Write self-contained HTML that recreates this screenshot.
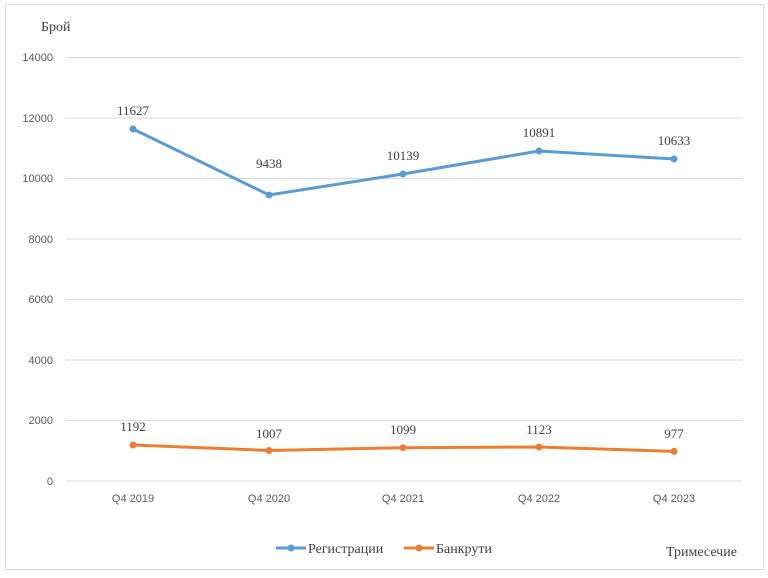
<html><body style="margin:0;background:#fff">
<svg width="768" height="578" xmlns="http://www.w3.org/2000/svg" style="display:block">
<rect x="5.5" y="4.5" width="758" height="565" fill="#fff" stroke="#d9d9d9"/>
<g stroke="#d9d9d9" stroke-width="1">
<line x1="66" x2="742" y1="57.5" y2="57.5"/><line x1="66" x2="742" y1="118" y2="118"/>
<line x1="66" x2="742" y1="178.5" y2="178.5"/><line x1="66" x2="742" y1="239" y2="239"/>
<line x1="66" x2="742" y1="299.5" y2="299.5"/><line x1="66" x2="742" y1="360" y2="360"/>
<line x1="66" x2="742" y1="420.5" y2="420.5"/><line x1="66" x2="742" y1="481" y2="481"/>
</g>
<g font-family="Liberation Sans, sans-serif" font-size="11" fill="#595959" text-anchor="end">
<text x="53" y="61">14000</text><text x="53" y="122">12000</text><text x="53" y="182">10000</text>
<text x="53" y="243">8000</text><text x="53" y="303">6000</text><text x="53" y="364">4000</text>
<text x="53" y="424">2000</text><text x="53" y="485">0</text>
</g>
<g font-family="Liberation Sans, sans-serif" font-size="11" fill="#595959" text-anchor="middle">
<text x="133" y="502">Q4 2019</text><text x="269" y="502">Q4 2020</text><text x="403" y="502">Q4 2021</text>
<text x="539" y="502">Q4 2022</text><text x="674" y="502">Q4 2023</text>
</g>
<text x="41" y="31" font-family="Liberation Serif, serif" font-size="14" fill="#404040">Брой</text>
<text x="666" y="556" font-family="Liberation Serif, serif" font-size="14" fill="#404040">Тримесечие</text>
<polyline points="133,129 269,195 403,174 539,151 674,159" fill="none" stroke="#5b9bd5" stroke-width="3" stroke-linejoin="round"/>
<polyline points="133,445 269,450.5 403,447.7 539,447 674,451.4" fill="none" stroke="#ed7d31" stroke-width="3" stroke-linejoin="round"/>
<g fill="#5b9bd5"><circle cx="133" cy="129" r="3.5"/><circle cx="269" cy="195" r="3.5"/><circle cx="403" cy="174" r="3.5"/><circle cx="539" cy="151" r="3.5"/><circle cx="674" cy="159" r="3.5"/></g>
<g fill="#ed7d31"><circle cx="133" cy="445" r="3.5"/><circle cx="269" cy="450.5" r="3.5"/><circle cx="403" cy="447.7" r="3.5"/><circle cx="539" cy="447" r="3.5"/><circle cx="674" cy="451.4" r="3.5"/></g>
<g font-family="Liberation Serif, serif" font-size="13" fill="#404040" text-anchor="middle">
<text x="133" y="115">11627</text><text x="269" y="168">9438</text><text x="403" y="160">10139</text>
<text x="539" y="137">10891</text><text x="674" y="145">10633</text>
<text x="133" y="431">1192</text><text x="269" y="438">1007</text><text x="403" y="434">1099</text>
<text x="539" y="434">1123</text><text x="674" y="438">977</text>
</g>
<line x1="276" x2="306" y1="548" y2="548" stroke="#5b9bd5" stroke-width="3"/><circle cx="291" cy="548" r="3.5" fill="#5b9bd5"/>
<text x="308" y="553" font-family="Liberation Serif, serif" font-size="14" fill="#404040">Регистрации</text>
<line x1="404" x2="434" y1="548" y2="548" stroke="#ed7d31" stroke-width="3"/><circle cx="419" cy="548" r="3.5" fill="#ed7d31"/>
<text x="436" y="553" font-family="Liberation Serif, serif" font-size="14" fill="#404040">Банкрути</text>
</svg>
</body></html>
